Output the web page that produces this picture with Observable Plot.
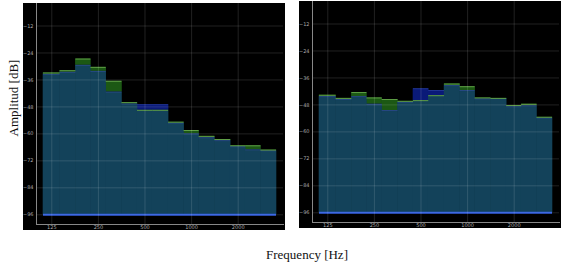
<!DOCTYPE html>
<html><head><meta charset="utf-8">
<script src="https://cdn.jsdelivr.net/npm/d3@7"></script>
<script src="https://cdn.jsdelivr.net/npm/@observablehq/plot@0.6"></script>
<style>
body{margin:0;background:#fff;width:567px;height:268px;position:relative;overflow:hidden;font-family:"Liberation Serif","DejaVu Serif",serif;}
.panel{position:absolute;}
#ylab{position:absolute;left:14px;top:98px;transform:translate(-50%,-50%) rotate(-90deg);font-size:13px;white-space:nowrap;color:#111;}
#xlab{position:absolute;left:307px;top:255px;transform:translate(-50%,-50%);font-size:13px;white-space:nowrap;color:#111;}
</style></head>
<body>
<div id="left" class="panel" style="left:23px;top:3px"></div>
<div id="right" class="panel" style="left:299px;top:1px"></div>
<div id="ylab">Amplitud [dB]</div>
<div id="xlab">Frequency [Hz]</div>
<script>
const freqs = [125,160,200,250,315,400,500,630,800,1000,1250,1600,2000,2500,3150];
const xTicks = [125,250,500,1000,2000];
const yTicks = [-12,-24,-36,-48,-60,-72,-84,-96];
const floorDb = -96;
const leftBlue  = [-33.5,-32.6,-29.5,-32.2,-41.4,-46.7,-47.0,-47.0,-55.2,-60.0,-61.7,-63.0,-65.7,-67.1,-67.5];
const leftGreen = [-32.9,-31.9,-26.7,-30.4,-36.6,-46.1,-49.5,-49.5,-54.8,-58.5,-61.1,-62.5,-65.3,-65.3,-67.2];
const rightBlue  = [-44.3,-45.6,-44.3,-47.7,-50.5,-46.8,-40.8,-41.6,-39.4,-41.6,-45.3,-45.2,-48.8,-48.4,-53.8];
const rightGreen = [-43.7,-45.1,-42.5,-44.9,-45.6,-46.4,-46.1,-43.9,-38.7,-39.9,-44.9,-45.1,-48.3,-47.7,-53.5];

// band edges: geometric midpoints between neighbouring band centres
const n = freqs.length;
const mids = freqs.slice(1).map((f,i)=>Math.sqrt(f*freqs[i]));
const edges = [freqs[0]*freqs[0]/mids[0], ...mids, freqs[n-1]*freqs[n-1]/mids[n-2]];

function panel(blue, green){
  const rows = freqs.map((f,i)=>({lo:edges[i], hi:edges[i+1], b:blue[i], g:green[i], m:Math.min(blue[i],green[i])}));
  const x0 = edges[0], x1 = edges[n];
  const grid = {stroke:"#fff", strokeOpacity:0.13, strokeWidth:1};
  const ov = {insetLeft:-0.3, insetRight:-0.3};
  return Plot.plot({
    width:262, height:227,
    marginLeft:13, marginRight:2, marginTop:0, marginBottom:6,
    style:{background:"#000", overflow:"visible", fontFamily:"DejaVu Sans, sans-serif"},
    x:{type:"log", domain:[x0,x1], range:[20,253], axis:null},
    y:{domain:[floorDb,-12], range:[211.3,22.5], axis:null},
    marks:[
      Plot.rectY(rows,{x1:"lo",x2:"hi",y1:"m",y2:"g",fill:"#1c5814",...ov}),
      Plot.rectY(rows,{x1:"lo",x2:"hi",y1:"m",y2:"b",fill:"#0a1a78",...ov}),
      Plot.rectY(rows,{x1:"lo",x2:"hi",y1:()=>floorDb,y2:"m",fill:"#13425a",...ov}),
      Plot.ruleY(rows,{x1:"lo",x2:"hi",y:"b",stroke:"#3a4fb0",strokeWidth:1,strokeOpacity:0.5}),
      Plot.ruleY(rows,{x1:"lo",x2:"hi",y:"g",stroke:"#5f9e46",strokeWidth:1}),
      Plot.ruleY([floorDb],{x1:()=>x0,x2:()=>x1,stroke:"#2d5be0",strokeWidth:2}),
      Plot.gridY(yTicks, grid),
      Plot.gridX(xTicks, grid),
      Plot.frame({anchor:"left", stroke:"#888"}),
      Plot.frame({anchor:"bottom", stroke:"#888"}),
      Plot.axisY(yTicks,{tickSize:0,tickPadding:3,fontSize:5,color:"#aaa",label:null}),
      Plot.text(xTicks,{x:d=>d,frameAnchor:"bottom",dy:4.5,text:d=>String(d),fontSize:5,fill:"#aaa"})
    ]
  });
}
document.getElementById("left").append(panel(leftBlue,leftGreen));
document.getElementById("right").append(panel(rightBlue,rightGreen));
</script>
</body></html>
